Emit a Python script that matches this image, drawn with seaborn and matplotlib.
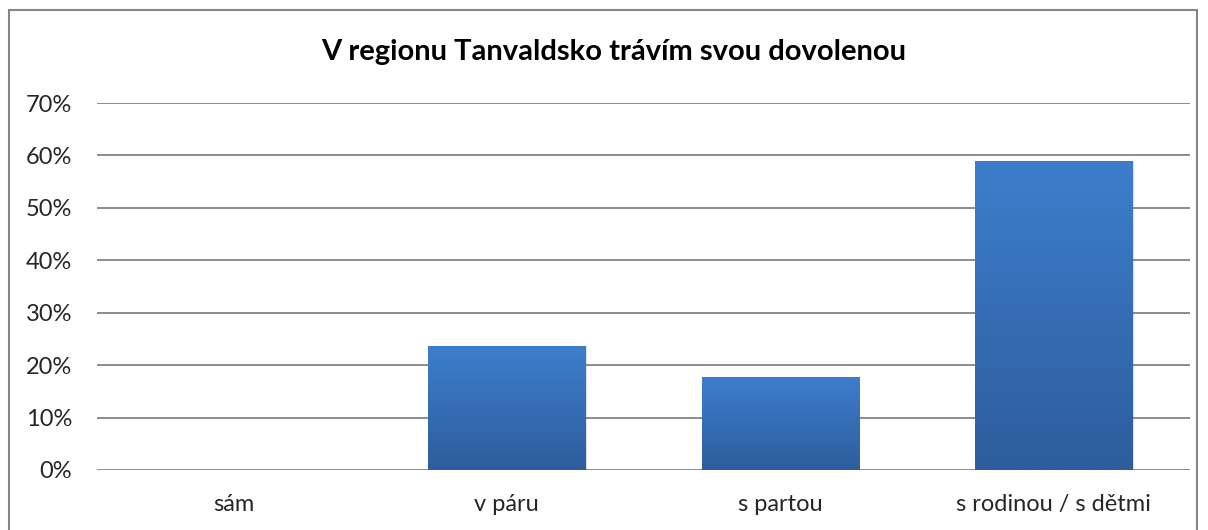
import matplotlib
matplotlib.use("Agg")
import matplotlib.pyplot as plt
import matplotlib.patches as mpatches
import matplotlib.colors as mcolors
import numpy as np
import pandas as pd
import seaborn as sns

categories = ["sám", "v páru", "s partou", "s rodinou / s dětmi"]
values = [0.0, 0.236, 0.177, 0.589]
yticks = [0.0, 0.1, 0.2, 0.3, 0.4, 0.5, 0.6, 0.7]
title = "V regionu Tanvaldsko trávím svou dovolenou"

sns.set_theme(style="white")
plt.rcParams["font.family"] = ["Lato", "DejaVu Sans"]

df = pd.DataFrame({"cat": categories, "val": values})

fig = plt.figure(figsize=(12.08, 5.30), dpi=100)
ax = fig.add_axes([97 / 1208, 60 / 530, (1190 - 97) / 1208, (470 - 103) / 530])

sns.barplot(data=df, x="cat", y="val", ax=ax, color="#3A78C4", width=0.575,
            saturation=1, edgecolor="none", zorder=3)

ax.set_ylim(0, 0.70)
ax.set_xlim(-0.5, len(categories) - 0.5)
ax.set_yticks(yticks)
ax.set_yticklabels([f"{int(round(t * 100))}%" for t in yticks], fontsize=17)
ax.tick_params(axis="x", labelsize=17, pad=17, length=0)
ax.tick_params(axis="y", pad=18, length=0)
ax.set_xlabel("")
ax.set_ylabel("")
ax.yaxis.grid(True, color="#8c8c8c", linewidth=1.4, zorder=0)
ax.xaxis.grid(False)
for s in ax.spines.values():
    s.set_visible(False)

# gradient fill on bars
cmap = mcolors.LinearSegmentedColormap.from_list("g", ["#2D5D9C", "#3D7ECC"])
grad = np.linspace(0, 1, 256).reshape(-1, 1)
for p in list(ax.patches):
    h = p.get_height()
    if h <= 0:
        continue
    x0 = p.get_x()
    w = p.get_width()
    sh = mpatches.Rectangle((x0 + 0.006, 0), w, h, facecolor="#000000", alpha=0.12,
                            edgecolor="none", zorder=2)
    ax.add_patch(sh)
    ax.imshow(grad, extent=[x0, x0 + w, 0, h], origin="lower", aspect="auto",
              cmap=cmap, zorder=4, interpolation="bilinear")
ax.set_xlim(-0.5, len(categories) - 0.5)
ax.set_ylim(0, 0.70)

fig.text(614 / 1208, 1 - 52 / 530, title, ha="center", va="center",
         fontsize=21, fontweight="bold", color="#000000")

border = mpatches.Rectangle((9 / 1208, -0.05), (1197 - 9) / 1208, 1.05 - 10 / 530,
                            transform=fig.transFigure, fill=False,
                            edgecolor="#868686", linewidth=1.5)
fig.patches.append(border)

fig.savefig("out.png", dpi=100)
